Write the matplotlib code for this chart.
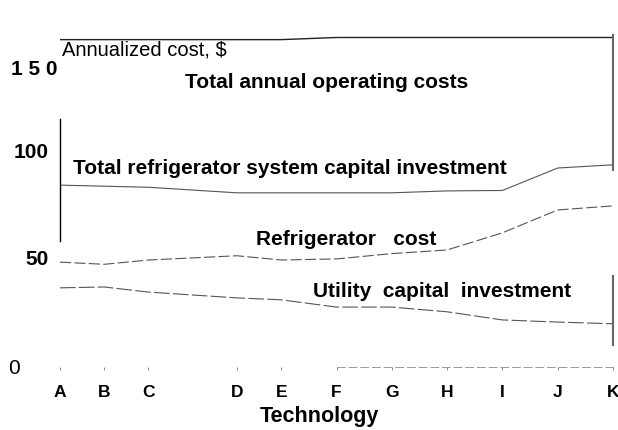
import matplotlib
matplotlib.use("Agg")
import matplotlib.pyplot as plt
import matplotlib.transforms as mtransforms
import numpy as np

# ---- data ----
technologies = ["A", "B", "C", "D", "E", "F", "G", "H", "I", "J", "K"]
tech_pos = [0, 1, 2, 4, 5, 6.25, 7.5, 8.75, 10, 11.25, 12.5]
total_operating = [152, 152, 152, 152, 152, 153, 153, 153, 153, 153, 153]
total_system_capital = [84, 83.5, 83, 80.4, 80.4, 80.4, 80.4, 81.3, 81.5, 92, 93.5]
refrigerator_cost = [48, 47, 49, 51, 49, 49.5, 52, 53.7, 61.7, 72.4, 74.3]
utility_capital = [36, 36.4, 34, 31.3, 30.4, 27, 27, 24.8, 21, 20, 19.2]
ytick_values = [0, 50, 100, 150]
ytick_labels = ["0", "50", "100", "1 5 0"]

plt.rcParams["font.family"] = ["Liberation Sans", "DejaVu Sans"]

fig = plt.figure(figsize=(6.18, 4.30), dpi=100)
ax = fig.add_axes([60 / 618, 63 / 430, (613 - 60) / 618, 337 / 430])

ax.plot(tech_pos, total_operating, color="#222222", lw=1.0)
ax.plot(tech_pos, total_system_capital, color="#555555", lw=0.8)
ax.plot(tech_pos, refrigerator_cost, color="#555555", lw=0.8, dashes=(10, 3))
ax.plot(tech_pos, utility_capital, color="#555555", lw=0.8, dashes=(14, 3))

ax.set_xlim(tech_pos[0], tech_pos[-1])
ax.set_ylim(-1, 156.5)

ax.set_xticks(tech_pos)
ax.set_xticklabels(technologies, fontsize=12.5, fontweight="bold")
ax.tick_params(axis="x", length=2, width=0.6, color="#777777", pad=11)
ax.set_yticks(ytick_values)
ax.set_yticklabels(ytick_labels, fontsize=15, fontweight="bold")
ax.tick_params(axis="y", length=0, pad=8)
ylabels = ax.get_yticklabels()
ylabels[0].set_fontweight("normal")
ylabels[0].set_transform(ylabels[0].get_transform() +
                         mtransforms.ScaledTranslation(-0.29, -0.02, fig.dpi_scale_trans))
ylabels[3].set_transform(ylabels[3].get_transform() +
                         mtransforms.ScaledTranslation(0.09, -0.24, fig.dpi_scale_trans))

ax.spines["top"].set_visible(False)
ax.spines["left"].set_bounds(58, 115)
ax.spines["left"].set_linewidth(1.0)
ax.spines["right"].set_bounds(91, 154)
ax.spines["right"].set_color("#666666")
ax.spines["right"].set_linewidth(1.5)
ax.vlines(tech_pos[-1], 9, 42, color="#666666", lw=1.5, clip_on=False)
ax.spines["bottom"].set_bounds(tech_pos[5], tech_pos[-1])
ax.spines["bottom"].set_color("#999999")
ax.spines["bottom"].set_linewidth(0.7)
ax.spines["bottom"].set_linestyle((0, (8, 4)))

ax.set_xlabel("Technology", fontsize=15.5, fontweight="bold")
ax.xaxis.set_label_coords(0.47, -0.148)
ax.xaxis.label.set_va("center")

fig.text(62 / 618, 1 - 50 / 430, "Annualized cost, $", fontsize=14.5,
         ha="left", va="center")

lbl = dict(fontsize=15, fontweight="bold", ha="left", va="center")
ax.text(2.83, 131.8, "Total annual operating costs", **lbl)
ax.text(0.29, 92, "Total refrigerator system capital investment", **lbl)
ax.text(4.42, 58.4, "Refrigerator   cost", **lbl)
ax.text(5.73, 34.1, "Utility  capital  investment", **lbl)

fig.savefig("out.png", dpi=100)
